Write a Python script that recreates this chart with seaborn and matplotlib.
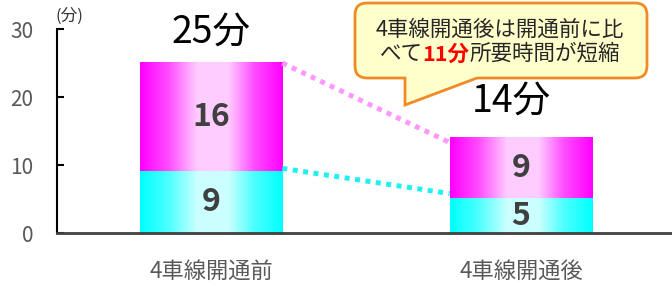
import numpy as np
import pandas as pd
import matplotlib
matplotlib.use("Agg")
import matplotlib.pyplot as plt
import seaborn as sns
from matplotlib.colors import to_rgb
from matplotlib.path import Path
from matplotlib.patches import PathPatch
from matplotlib.transforms import Affine2D

# ----------------------
# データ
# ----------------------
categories = ["4車線開通前", "4車線開通後"]
lower = [9, 5]          # 下段（シアン）
upper = [16, 9]         # 上段（マゼンタ）
totals = [25, 14]
total_labels = ["25分", "14分"]
link_upper = [25, 13.3]  # 上段をつなぐ点線
link_lower = [9.5, 5.8]  # 下段をつなぐ点線
callout_line1 = "4車線開通後は開通前に比"
callout_line2 = ["べて", "11分", "所要時間が短縮"]

# ----------------------
# 体裁
# ----------------------
sns.set_theme(style="white")
plt.rcParams["font.family"] = ["Noto Sans CJK JP", "DejaVu Sans"]

fig = plt.figure(figsize=(6.72, 2.86), dpi=100)
ax = fig.add_axes([0.0848, 0.1853, 0.9152, 0.7133])

df = pd.DataFrame({"区分": categories, "合計": totals, "下段": lower})

bar_w = 0.46
sns.barplot(data=df, x="区分", y="合計", color="#FF00FF", saturation=1,
            width=bar_w, errorbar=None, linewidth=0, ax=ax)
sns.barplot(data=df, x="区分", y="下段", color="#00FFFF", saturation=1,
            width=bar_w, errorbar=None, linewidth=0, ax=ax)


def gradient(base, n=256):
    # 端は濃く、中央付近が白っぽい横方向グラデーション
    t = np.linspace(0, 1, n)
    m = np.interp(t, [0, 0.2, 0.4, 0.62, 0.8, 1], [0, 0.3, 0.8, 0.8, 0.3, 0])
    rgb = np.array(to_rgb(base))
    img = rgb[None, :] * (1 - m[:, None]) + m[:, None]
    return img[None, :, :]


for i, bar in enumerate(list(ax.patches)):
    x0, y0 = bar.get_x(), bar.get_y()
    w, h = bar.get_width(), bar.get_height()
    ax.imshow(gradient(bar.get_facecolor()), extent=[x0, x0 + w, y0, y0 + h],
              aspect="auto", interpolation="bilinear", zorder=1.1 + 0.1 * i)

ax.set_xlim(-0.497, 1.487)
ax.set_ylim(0, 30)

# 点線（バー同士をつなぐ）
half = bar_w / 2
ax.plot([half, 1 - half], link_upper, color="#FF99FF", lw=3.6,
        linestyle=(0, (1, 1.1)), solid_capstyle="butt", zorder=3)
ax.plot([half, 1 - half], link_lower, color="#22F0F0", lw=3.6,
        linestyle=(0, (1, 1.1)), solid_capstyle="butt", zorder=3)

# バー内の数値
for i in range(len(categories)):
    ax.text(i, lower[i] / 2, str(lower[i]), ha="center", va="center",
            fontsize=23, fontweight="bold", color="#404040", zorder=5)
    ax.text(i, lower[i] + upper[i] / 2, str(upper[i]), ha="center", va="center",
            fontsize=23, fontweight="bold", color="#404040", zorder=5)

# 合計ラベル
label_dx = [0.0, -0.03]
label_dy = [4.6, 5.4]
for i, lab in enumerate(total_labels):
    ax.text(i + label_dx[i], totals[i] + label_dy[i], lab, ha="center",
            va="center", fontsize=27, color="black", clip_on=False, zorder=5)

# 軸
ax.set_xlabel("")
ax.set_ylabel("")
ax.set_yticks([0, 10, 20, 30])
for s in ["top", "right"]:
    ax.spines[s].set_visible(False)
ax.spines["left"].set_color("black")
ax.spines["left"].set_linewidth(1.5)
ax.spines["bottom"].set_color("#404040")
ax.spines["bottom"].set_linewidth(2)
ax.tick_params(axis="y", left=True, direction="in", length=5, width=1.5,
               color="black", labelsize=15, labelcolor="#595959", pad=17)
ax.tick_params(axis="x", bottom=False, length=0, labelsize=16,
               labelcolor="#595959", pad=19)

fig.text(69 / 672, 1 - 16 / 286, "(分)", ha="center", va="center",
         fontsize=12, color="#333333")

# ----------------------
# 吹き出し
# ----------------------
x0, x1, yt, yb, r = 355, 647, 3, 78, 12
verts = [
    (x0 + r, yt), (x1 - r, yt), (x1, yt), (x1, yt + r),
    (x1, yb - r), (x1, yb), (x1 - r, yb),
    (477, yb), (405, 105), (405, yb),
    (x0 + r, yb), (x0, yb), (x0, yb - r),
    (x0, yt + r), (x0, yt), (x0 + r, yt), (x0 + r, yt),
]
codes = [
    Path.MOVETO, Path.LINETO, Path.CURVE3, Path.CURVE3,
    Path.LINETO, Path.CURVE3, Path.CURVE3,
    Path.LINETO, Path.LINETO, Path.LINETO,
    Path.LINETO, Path.CURVE3, Path.CURVE3,
    Path.LINETO, Path.CURVE3, Path.CURVE3, Path.CLOSEPOLY,
]
px = Affine2D().scale(1 / 672, -1 / 286).translate(0, 1) + fig.transFigure
bubble = PathPatch(Path(verts, codes), facecolor="#FFFFCC", edgecolor="#F08A24",
                   lw=2, transform=px, zorder=10)
fig.add_artist(bubble)

fig.text(500 / 672, 1 - 30 / 286, callout_line1, ha="center", va="center",
         fontsize=15.5, color="#262626", zorder=11)

styles = [dict(color="#262626"), dict(color="#FF0000", fontweight="bold"),
          dict(color="#262626")]
runs = [fig.text(0, 1 - 54 / 286, s, ha="left", va="center", fontsize=15.5,
                 zorder=11, **st) for s, st in zip(callout_line2, styles)]
fig.canvas.draw()
rend = fig.canvas.get_renderer()
widths = [t.get_window_extent(rend).width for t in runs]
start = 500 - sum(widths) / 2
for t, wd in zip(runs, widths):
    t.set_x(start / 672)
    start += wd

plt.savefig("out.png", dpi=100)
plt.close()
